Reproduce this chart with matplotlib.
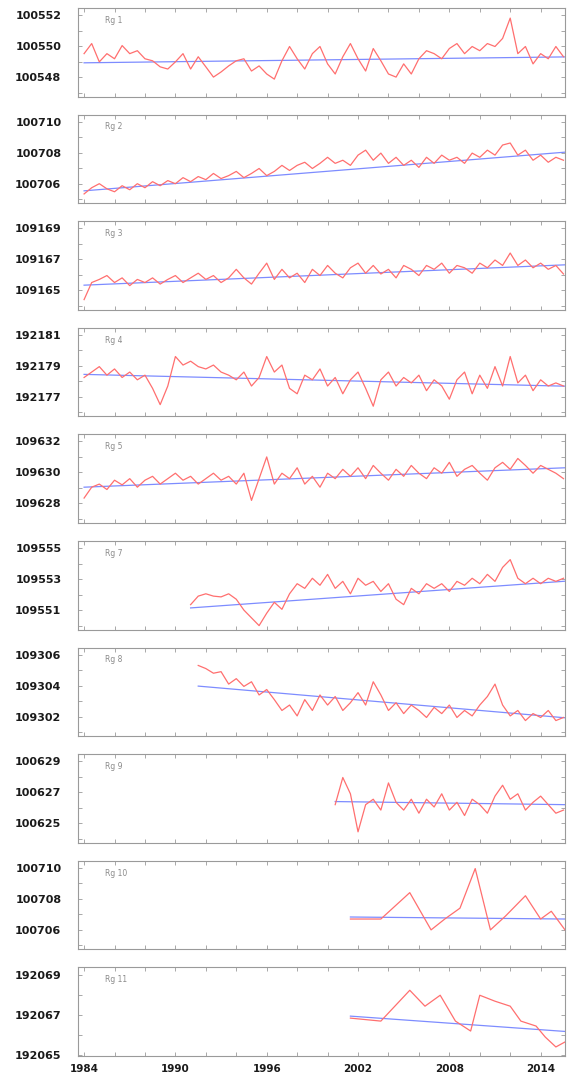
import numpy as np
import matplotlib
matplotlib.use("Agg")
import matplotlib.pyplot as plt
from matplotlib.ticker import MultipleLocator, FixedLocator

# ---------------- data ----------------
panel_labels = ["Rg 1", "Rg 2", "Rg 3", "Rg 4", "Rg 5", "Rg 7", "Rg 8", "Rg 9", "Rg 10", "Rg 11"]
tick_base = [100548, 100706, 109165, 192177, 109628, 109551, 109302, 100625, 100706, 192065]

x_ticks = [1984, 1990, 1996, 2002, 2008, 2014]
x_ticklabels = ["1984", "1990", "1996", "2002", "2008", "2014"]

years_full = np.arange(1984.0, 2016.0, 0.5)      # panels 1-5
years_p6 = np.arange(1991.0, 2016.0, 0.5)
years_p7 = np.arange(1991.5, 2016.0, 0.5)
years_p8 = np.arange(2000.5, 2016.0, 0.5)
years_sparse = [2001.5, 2003.5, 2005.4, 2006.8, 2007.7, 2008.7, 2009.7, 2010.7,
                2011.7, 2013.0, 2014.0, 2014.7, 2015.6]
years_p10 = [2001.5, 2003.5, 2005.4, 2006.4, 2007.4, 2008.4, 2009.4, 2010.0,
             2011.0, 2012.0, 2012.7, 2013.7, 2014.3, 2015.0, 2015.6]

# values given as offsets above each panel's base tick value
p1 = [1.51, 2.16, 0.98, 1.51, 1.18, 2.03, 1.51, 1.70, 1.18, 1.05, 0.66, 0.52, 0.98, 1.51, 0.52, 1.31,
      0.66, 0.00, 0.33, 0.72, 1.05, 1.18, 0.39, 0.72, 0.20, -0.13, 1.05, 1.97, 1.18, 0.52, 1.51, 1.97,
      0.85, 0.20, 1.31, 2.16, 1.18, 0.39, 1.84, 1.05, 0.20, 0.00, 0.85, 0.20, 1.18, 1.70, 1.51, 1.18,
      1.84, 2.16, 1.51, 1.97, 1.70, 2.16, 1.97, 2.49, 3.80, 1.51, 1.97, 0.85, 1.51, 1.18, 1.97, 1.31]
p2 = [-0.66, -0.26, 0.00, -0.33, -0.52, -0.13, -0.39, 0.00, -0.26, 0.13, -0.13, 0.20, 0.00, 0.39, 0.13, 0.46,
      0.26, 0.66, 0.33, 0.52, 0.79, 0.39, 0.66, 0.98, 0.52, 0.79, 1.18, 0.85, 1.18, 1.38, 0.98, 1.31,
      1.70, 1.31, 1.51, 1.18, 1.84, 2.16, 1.51, 1.97, 1.31, 1.70, 1.18, 1.51, 1.05, 1.70, 1.31, 1.84,
      1.51, 1.70, 1.31, 1.97, 1.70, 2.16, 1.84, 2.49, 2.62, 1.84, 2.16, 1.51, 1.84, 1.38, 1.70, 1.51]
p3 = [-0.60, 0.50, 0.70, 0.95, 0.50, 0.80, 0.30, 0.70, 0.50, 0.80, 0.40, 0.70, 0.95, 0.50, 0.80, 1.10,
      0.70, 0.95, 0.50, 0.80, 1.35, 0.80, 0.40, 1.10, 1.75, 0.70, 1.35, 0.80, 1.10, 0.50, 1.35, 0.95,
      1.60, 1.10, 0.80, 1.45, 1.75, 1.10, 1.60, 1.05, 1.35, 0.80, 1.60, 1.35, 0.95, 1.60, 1.35, 1.75,
      1.10, 1.60, 1.45, 1.10, 1.75, 1.45, 1.95, 1.60, 2.40, 1.60, 1.95, 1.45, 1.75, 1.35, 1.60, 1.05]
p4 = [1.25, 1.60, 1.95, 1.40, 1.80, 1.25, 1.60, 1.10, 1.40, 0.55, -0.50, 0.70, 2.60, 2.05, 2.30, 1.95,
      1.80, 2.05, 1.60, 1.40, 1.10, 1.60, 0.70, 1.25, 2.60, 1.60, 2.05, 0.55, 0.20, 1.40, 1.10, 1.80,
      0.70, 1.25, 0.20, 1.10, 1.60, 0.55, -0.60, 1.10, 1.60, 0.70, 1.25, 0.90, 1.40, 0.40, 1.10, 0.70,
      -0.15, 1.10, 1.60, 0.20, 1.40, 0.55, 1.95, 0.70, 2.60, 0.90, 1.40, 0.40, 1.10, 0.70, 0.90, 0.70]
p5 = [0.35, 1.05, 1.25, 0.90, 1.50, 1.20, 1.60, 1.05, 1.50, 1.75, 1.25, 1.60, 1.95, 1.50, 1.75, 1.25,
      1.60, 1.95, 1.50, 1.75, 1.25, 1.95, 0.20, 1.60, 3.00, 1.25, 1.95, 1.60, 2.30, 1.25, 1.75, 1.05,
      1.95, 1.60, 2.20, 1.75, 2.30, 1.60, 2.45, 1.95, 1.50, 2.20, 1.75, 2.45, 1.95, 1.60, 2.30, 1.95,
      2.65, 1.75, 2.20, 2.45, 1.95, 1.50, 2.30, 2.65, 2.20, 2.90, 2.45, 1.95, 2.45, 2.20, 1.95, 1.60]
p6 = [0.35, 0.90, 1.05, 0.90, 0.85, 1.05, 0.70, 0.00, -0.50, -1.00,
      -0.20, 0.50, 0.05, 1.05, 1.70, 1.40, 2.05, 1.60, 2.30, 1.40,
      1.85, 1.05, 2.05, 1.60, 1.85, 1.20, 1.70, 0.70, 0.35, 1.40,
      1.05, 1.70, 1.40, 1.70, 1.20, 1.85, 1.60, 2.05, 1.70, 2.30,
      1.85, 2.75, 3.25, 2.05, 1.70, 2.05, 1.70, 2.05, 1.85, 2.05]
p7 = [3.30, 3.10, 2.80, 2.90, 2.10, 2.45, 1.95, 2.25, 1.40, 1.75, 1.10,
      0.40, 0.75, 0.05, 1.10, 0.40, 1.40, 0.75, 1.30, 0.40, 0.90,
      1.55, 0.75, 2.25, 1.40, 0.40, 0.90, 0.20, 0.75, 0.40, -0.05,
      0.60, 0.20, 0.75, -0.05, 0.40, 0.05, 0.75, 1.30, 2.10, 0.75,
      0.05, 0.40, -0.25, 0.20, -0.05, 0.40, -0.25, -0.05]
p8 = [1.20, 2.95, 1.90, -0.55, 1.20, 1.55, 0.85, 2.60, 1.35, 0.85, 1.55, 0.65, 1.55, 1.05, 1.90, 0.85,
      1.35, 0.50, 1.55, 1.20, 0.65, 1.75, 2.45, 1.55, 1.90, 0.85, 1.35, 1.75, 1.20, 0.65, 0.85]
p9 = [0.70, 0.70, 2.40, 0.00, 0.70, 1.40, 3.95, 0.00, 0.90, 2.20, 0.70, 1.20, 0.00]
p10 = [1.85, 1.70, 3.25, 2.45, 3.00, 1.70, 1.20, 3.00, 2.70, 2.45, 1.70, 1.45, 0.90, 0.40, 0.65]

series_x = [years_full, years_full, years_full, years_full, years_full,
            years_p6, years_p7, years_p8, years_sparse, years_p10]
series_y = [p1, p2, p3, p4, p5, p6, p7, p8, p9, p10]

# trend lines: (start year, start offset, end year, end offset)
trend_x0 = [1984.0, 1984.0, 1984.0, 1984.0, 1984.0, 1991.0, 1991.5, 2000.5, 2001.5, 2001.5]
trend_y0 = [0.92, -0.46, 0.33, 1.45, 1.05, 0.14, 1.97, 1.40, 0.83, 1.95]
trend_x1 = [2015.6] * 10
trend_y1 = [1.30, 2.03, 1.64, 0.69, 2.30, 1.86, -0.07, 1.20, 0.70, 1.18]

# ---------------- figure ----------------
W, H = 569, 1084
fig = plt.figure(figsize=(W / 100, H / 100), dpi=100)
fig.patch.set_facecolor("white")

left_px, right_px = 78, 565
top0, pitch, ph = 8.0, 106.6, 88.5
red = "#ff6f6f"
blue = "#7d8cff"
spine_c = "#9a9a9a"

for i in range(10):
    top = top0 + i * pitch
    ax = fig.add_axes([left_px / W, 1 - (top + ph) / H, (right_px - left_px) / W, ph / H])
    base = tick_base[i]
    xs = np.asarray(series_x[i], dtype=float)
    ys = base + np.asarray(series_y[i], dtype=float)
    ax.plot(xs, ys, color=red, lw=0.9, zorder=3)
    ax.plot([trend_x0[i], trend_x1[i]], [base + trend_y0[i], base + trend_y1[i]],
            color=blue, lw=0.9, zorder=2)

    ax.set_xlim(1983.6, 2015.6)
    if i == 9:
        ax.set_ylim(base - 0.05, base + 4.4)
    else:
        ax.set_ylim(base - 1.25, base + 4.45)
    ax.yaxis.set_major_locator(FixedLocator([base, base + 2, base + 4]))
    ax.yaxis.set_minor_locator(MultipleLocator(1))
    ax.set_yticklabels([str(base), str(base + 2), str(base + 4)])
    ax.xaxis.set_major_locator(FixedLocator(x_ticks))
    ax.xaxis.set_minor_locator(MultipleLocator(2))

    for s in ax.spines.values():
        s.set_color(spine_c)
        s.set_linewidth(0.8)
    ax.tick_params(axis="both", which="both", direction="in", colors=spine_c,
                   top=True, right=True, length=3, width=0.6)
    ax.tick_params(axis="y", which="major", labelsize=8, labelcolor="#1a1a1a", pad=12)
    if i == 9:
        ax.set_xticklabels(x_ticklabels)
        ax.tick_params(axis="x", which="major", labelsize=7.5, labelcolor="#1a1a1a", pad=6)
    else:
        ax.tick_params(axis="x", labelbottom=False)
    for lab in ax.get_yticklabels() + ax.get_xticklabels():
        lab.set_fontweight("bold")

    ax.text(0.055, 0.86, panel_labels[i], transform=ax.transAxes, fontsize=5.5,
            color="#8a8a8a", ha="left", va="center")

fig.savefig("out.png", dpi=100, facecolor="white")
